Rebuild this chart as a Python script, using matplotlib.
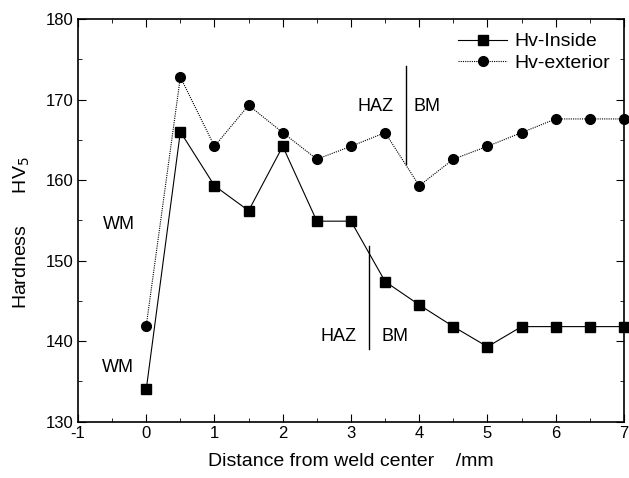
import numpy as np
import matplotlib.pyplot as plt

plt.rcParams['font.family'] = ['Liberation Sans', 'DejaVu Sans']
plt.rcParams['axes.unicode_minus'] = False

x = [0, 0.5, 1, 1.5, 2, 2.5, 3, 3.5, 4, 4.5, 5, 5.5, 6, 6.5, 7]
hv_inside = [134.0, 166.0, 159.3, 156.2, 164.2, 154.9, 154.9, 147.4, 144.5,
             141.8, 139.3, 141.8, 141.8, 141.8, 141.8]
hv_exterior = [141.9, 172.8, 164.2, 169.3, 165.9, 162.6, 164.2, 165.9, 159.3,
               162.6, 164.2, 165.9, 167.6, 167.6, 167.6]

fig = plt.figure(figsize=(6.29, 4.78), dpi=100)
ax = fig.add_axes([0.124, 0.118, 0.868, 0.842])

ax.plot(x, hv_inside, color='black', lw=0.8, marker='s', ms=6.5,
        label='Hv-Inside', clip_on=False)
ax.plot(x, hv_exterior, color='black', lw=0.8, ls=(0, (1, 1)), marker='o', ms=7,
        label='Hv-exterior', clip_on=False)

# zone boundaries
ax.plot([3.8, 3.8], [162, 174.2], color='black', lw=1)
ax.plot([3.26, 3.26], [139, 151.8], color='black', lw=1)
ax.text(3.63, 169.2, 'HAZ', ha='right', va='center', fontsize=13)
ax.text(3.92, 169.2, 'BM', ha='left', va='center', fontsize=13)
ax.text(3.08, 140.6, 'HAZ', ha='right', va='center', fontsize=13)
ax.text(3.44, 140.6, 'BM', ha='left', va='center', fontsize=13)
ax.text(-0.63, 154.5, 'WM', ha='left', va='center', fontsize=13)
ax.text(-0.65, 136.7, 'WM', ha='left', va='center', fontsize=13)

ax.set_xlim(-1, 7)
ax.set_ylim(130, 180)
ax.set_xticks(np.arange(-1, 8, 1))
ax.set_xticks(np.arange(-1, 7.5, 0.5), minor=True)
ax.set_yticks(np.arange(130, 181, 10))
ax.set_yticks(np.arange(130, 181, 5), minor=True)
ax.tick_params(axis='both', which='both', direction='in', top=True, right=True,
               labelsize=12)
ax.tick_params(which='major', length=6)
ax.tick_params(which='minor', length=3)
for s in ax.spines.values():
    s.set_linewidth(1.2)

ax.set_xlabel('Distance from weld center    /mm', fontsize=14, labelpad=8)
ax.text(-0.103, 0.47, 'Hardness      HV$_5$', transform=ax.transAxes, rotation=90,
        ha='center', va='center', fontsize=14)

ax.legend(loc='upper right', frameon=False, fontsize=14, handlelength=2.5,
          borderaxespad=0.3, labelspacing=0.2, handletextpad=0.4)

fig.savefig('out.png', dpi=100)
